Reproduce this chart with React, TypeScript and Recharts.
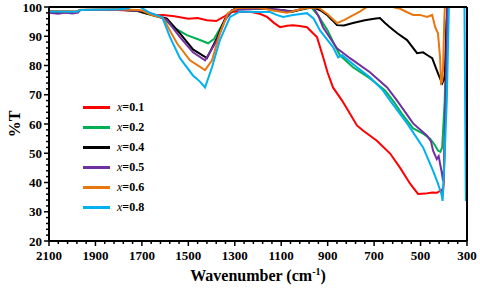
import React from 'react';
import { LineChart, Line, XAxis, YAxis, Legend, ReferenceLine } from 'recharts';

type Pt = [number, number];

// wavenumber (cm-1), %T
const x01: Pt[] = [
  [2100, 98.2], [2040, 98.0], [1980, 98.3], [1965, 99.0], [1800, 99.0], [1720, 98.6], [1680, 97.8],
  [1640, 97.2], [1609, 97.3], [1560, 96.8], [1500, 96.0], [1460, 96.2], [1420, 95.5], [1380, 95.2],
  [1340, 97.0], [1320, 98.3], [1290, 98.5], [1230, 98.4], [1190, 97.6], [1161, 96.6], [1130, 94.5],
  [1105, 93.1], [1075, 93.6], [1050, 93.8], [1020, 93.5], [989, 93.1], [963, 91.0], [946, 89.7],
  [920, 83.0], [900, 77.5], [877, 72.5], [838, 68.0], [812, 64.6], [774, 59.5], [748, 57.8],
  [688, 54.3], [631, 49.9], [588, 45.0], [545, 39.6], [511, 36.1], [480, 36.2], [450, 36.6],
  [429, 36.5], [410, 37.5], [405, 35.5], [400, 40.0], [392, 70.0], [384, 101], [300, 101],
];

const x02: Pt[] = [
  [2100, 98.4], [1980, 98.2], [1965, 99.0], [1800, 99.1], [1720, 98.7], [1680, 97.8], [1640, 96.8],
  [1609, 96.2], [1566, 93.1], [1506, 90.4], [1450, 88.7], [1415, 87.6], [1390, 89.0], [1355, 93.8],
  [1320, 98.3], [1290, 99.5], [1200, 99.6], [1100, 98.8], [1060, 98.3], [1000, 99.3], [970, 99.8],
  [940, 97.0], [900, 92.0], [870, 87.0], [847, 83.5], [791, 79.4], [718, 75.6], [653, 71.5],
  [619, 68.0], [580, 63.5], [532, 58.5], [489, 56.7], [459, 55.0], [440, 53.0], [425, 50.9],
  [415, 50.5], [407, 52.0], [396, 68.0], [386, 100], [380, 101], [300, 101],
];

const x04: Pt[] = [
  [2100, 98.5], [1980, 98.4], [1965, 99.0], [1800, 99.1], [1720, 98.8], [1680, 97.8], [1640, 97.0],
  [1592, 96.0], [1536, 91.0], [1480, 85.5], [1420, 82.5], [1376, 89.5], [1342, 96.0], [1300, 99.5],
  [1200, 99.6], [1100, 99.0], [1050, 98.5], [1000, 99.5], [963, 100], [930, 98.8], [903, 97.3],
  [880, 95.5], [860, 93.8], [830, 93.7], [791, 94.5], [740, 95.5], [700, 96.0], [675, 96.2],
  [653, 94.5], [632, 93.1], [600, 91.0], [558, 88.7], [515, 84.2], [489, 84.5], [470, 83.5],
  [450, 82.5], [425, 77.3], [407, 73.9], [400, 75.0], [395, 77.0], [388, 95.0], [382, 101], [300, 101],
];

const x05: Pt[] = [
  [2100, 98.0], [2060, 97.7], [2030, 98.1], [2000, 97.8], [1975, 98.1], [1965, 99.0], [1800, 99.1],
  [1700, 98.7], [1650, 97.5], [1620, 96.5], [1592, 95.5], [1536, 89.7], [1480, 84.5], [1428, 81.8],
  [1376, 88.7], [1342, 95.5], [1312, 99.0], [1200, 99.6], [1100, 99.0], [1060, 98.5], [1000, 99.5],
  [963, 100], [940, 97.0], [920, 93.1], [860, 85.9], [804, 82.5], [718, 77.7], [644, 72.5],
  [601, 68.0], [532, 60.2], [472, 56.0], [455, 54.0], [446, 50.9], [430, 48.0], [422, 49.0],
  [416, 46.4], [410, 44.0], [403, 40.6], [399, 45.0], [392, 70.0], [385, 101], [300, 101],
];

const x06: Pt[] = [
  [2100, 98.6], [1980, 98.5], [1965, 99.1], [1800, 99.2], [1720, 99.0], [1700, 98.8], [1660, 97.3],
  [1609, 96.2], [1549, 87.6], [1493, 81.8], [1428, 78.4], [1398, 81.8], [1364, 91.0], [1329, 97.9],
  [1290, 99.7], [1200, 99.8], [1130, 98.7], [1075, 98.0], [1030, 99.0], [989, 99.7], [940, 99.8],
  [900, 97.5], [860, 94.5], [830, 95.5], [804, 96.6], [760, 98.5], [731, 100], [700, 100.5],
  [650, 100.5], [620, 100], [588, 99.4], [560, 98.3], [532, 97.3], [502, 97.3], [472, 96.6],
  [459, 97.0], [450, 97.3], [437, 93.1], [425, 91.0], [416, 82.8], [412, 74.0], [407, 74.5],
  [403, 79.4], [398, 95.0], [395, 101], [300, 101],
];

const x08: Pt[] = [
  [2100, 98.5], [1980, 98.4], [1965, 99.0], [1800, 99.2], [1760, 99.6], [1730, 100.5], [1708, 100],
  [1665, 98.0], [1613, 96.6], [1579, 89.7], [1536, 82.5], [1480, 76.6], [1450, 74.5], [1428, 72.5],
  [1398, 79.4], [1364, 88.7], [1320, 96.6], [1277, 98.5], [1200, 98.3], [1148, 98.3], [1120, 97.3],
  [1092, 96.6], [1049, 97.3], [989, 97.9], [960, 96.0], [933, 92.0], [877, 86.3], [855, 82.8],
  [838, 83.5], [774, 79.4], [718, 76.0], [662, 71.5], [631, 68.0], [558, 60.2], [489, 52.0],
  [446, 44.0], [425, 39.6], [410, 36.0], [405, 33.7], [396, 50.0], [387, 68.0], [378, 100],
  [372, 101], [311, 101], [305, 34.0], [300, 34.0],
];

const seriesNames = ['0.1', '0.2', '0.4', '0.5', '0.6', '0.8'];
const seriesPoints = [x01, x02, x04, x05, x06, x08];
const COLORS = ['#FF0000', '#00B050', '#000000', '#7030A0', '#E8770F', '#00B0F0'];

const xTicks: number[] = [];
for (let v = 2100; v >= 300; v -= 40) xTicks.push(v);
const yTicks: number[] = [];
for (let v = 20; v <= 100; v += 2) yTicks.push(v);

const FONT = '"Liberation Serif", "Times New Roman", serif';

const XTick = (props: any) => {
  const { x, y, payload } = props;
  const major = (2100 - payload.value) % 200 === 0;
  return (
    <g>
      <line x1={x} x2={x} y1={y} y2={y + (major ? 5 : 3)} stroke="#000" strokeWidth={1.5} />
      {major && (
        <text x={x} y={y + 19} textAnchor="middle" fontFamily={FONT} fontWeight="bold" fontSize={13} fill="#000">
          {payload.value}
        </text>
      )}
    </g>
  );
};

const YTick = (props: any) => {
  const { x, y, payload } = props;
  const major = payload.value % 10 === 0;
  return (
    <g>
      <line x1={x} x2={x - (major ? 5 : 3)} y1={y} y2={y} stroke="#000" strokeWidth={1.5} />
      {major && (
        <text x={x - 7} y={y + 4.5} textAnchor="end" fontFamily={FONT} fontWeight="bold" fontSize={13} fill="#000">
          {payload.value}
        </text>
      )}
    </g>
  );
};

const LegendBox = () => (
  <div style={{ fontFamily: FONT, fontSize: 12, lineHeight: '20px' }}>
    {seriesNames.map((n, i) => (
      <div key={n} style={{ display: 'flex', alignItems: 'center', height: 20 }}>
        <span style={{ display: 'inline-block', width: 27, height: 3, background: COLORS[i], marginRight: 7 }} />
        <span>
          <i>x</i>
          <b>={n}</b>
        </span>
      </div>
    ))}
  </div>
);

export default function App() {
  return (
    <div style={{ position: 'absolute', left: 0, top: 0, background: '#fff' }}>
      <LineChart width={480} height={289} margin={{ top: 7, right: 13, left: 0, bottom: 0 }}>
        <XAxis
          dataKey="w"
          type="number"
          domain={[300, 2100]}
          reversed
          ticks={xTicks}
          interval={0}
          tick={<XTick />}
          tickLine={false}
          tickSize={0}
          tickMargin={0}
          height={48}
          axisLine={{ stroke: '#000', strokeWidth: 2 }}
          allowDataOverflow
          label={{
            content: (p: any) => {
              const vb = p.viewBox;
              return (
                <text x={vb.x + vb.width / 2} y={vb.y + 40} textAnchor="middle" fontFamily={FONT} fontWeight="bold" fontSize={16} fill="#000">
                  <tspan>Wavenumber (cm</tspan>
                  <tspan dy={-6} fontSize={10}>-1</tspan>
                  <tspan dy={6}>)</tspan>
                </text>
              );
            },
          }}
        />
        <YAxis
          type="number"
          domain={[20, 100]}
          ticks={yTicks}
          interval={0}
          allowDataOverflow
          tick={<YTick />}
          tickLine={false}
          tickSize={0}
          tickMargin={0}
          width={49}
          axisLine={{ stroke: '#000', strokeWidth: 2 }}
          label={{
            content: (p: any) => {
              const vb = p.viewBox;
              const cx = 14;
              const cy = vb.y + vb.height / 2;
              return (
                <text x={cx} y={cy} transform={`rotate(-90 ${cx} ${cy})`} textAnchor="middle" dominantBaseline="central" fontFamily={FONT} fontWeight="bold" fontSize={16} fill="#000">
                  %T
                </text>
              );
            },
          }}
        />
        <Legend
          layout="vertical"
          align="center"
          verticalAlign="middle"
          content={() => <LegendBox />}
          wrapperStyle={{ left: 83, top: 97, width: 'auto', height: 'auto' }}
        />
        {seriesPoints.map((pts, i) => (
          <Line
            key={seriesNames[i]}
            data={pts.map(([w, t]) => ({ w, t }))}
            dataKey="t"
            name={`x=${seriesNames[i]}`}
            type="linear"
            stroke={COLORS[i]}
            strokeWidth={2}
            dot={false}
            isAnimationActive={false}
          />
        ))}
        <ReferenceLine y={100} stroke="#000" strokeWidth={2} />
        <ReferenceLine x={300} stroke="#000" strokeWidth={2} />
      </LineChart>
    </div>
  );
}
